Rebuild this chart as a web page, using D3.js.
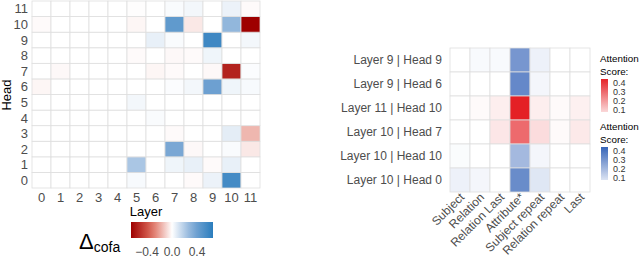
<!DOCTYPE html>
<html>
<head>
<meta charset="utf-8">
<script src="https://cdn.jsdelivr.net/npm/d3@7"></script>
<style>
  body { margin: 0; background: #fff; }
  svg { font-family: "Liberation Sans", Arial, sans-serif; }
</style>
</head>
<body>
<div id="chart"></div>
<script>
// left panel: delta cofa per layer/head
const layers = [0, 1, 2, 3, 4, 5, 6, 7, 8, 9, 10, 11];
const heads = [0, 1, 2, 3, 4, 5, 6, 7, 8, 9, 10, 11];
// deltaRows[head][layer]
const deltaRows = [
  [0, 0, 0, 0, 0, 0.02, 0, 0, -0.01, 0.05, 0.56, 0],
  [0, 0, 0, 0, 0, 0.22, 0, 0.04, 0.06, -0.01, 0.06, 0],
  [0, 0, 0, 0, 0, 0, 0, 0.35, -0.015, 0, 0.015, -0.05],
  [0, 0, 0, 0, 0, 0, 0, -0.01, 0, 0, 0.07, -0.16],
  [0, 0, 0, 0, 0, 0, 0.015, 0, 0, 0, 0, 0],
  [0, 0, 0, 0, 0, 0.03, 0, 0, 0, 0, 0, 0],
  [-0.02, 0, 0, 0, 0, 0, 0, 0.01, 0.03, 0.4, 0.04, 0.02],
  [0, -0.015, 0, 0, 0, 0, -0.02, -0.01, 0, -0.015, -0.55, 0.01],
  [0, 0, 0, 0, 0, -0.01, 0, -0.015, -0.01, 0.04, 0, 0],
  [0, 0, 0, 0, 0, 0, 0.06, 0.015, 0, 0.58, 0, 0.03],
  [-0.01, 0, 0, 0, 0, -0.02, 0, 0.45, -0.05, 0, 0.28, -0.66],
  [0, 0, 0, 0, 0, -0.005, 0, 0.015, 0.03, 0, 0.05, -0.01]
];
const deltaTicks = [-0.4, 0.0, 0.4];

// right panel: attention per token position
const tokens = ["Subject", "Relation", "Relation Last", "Attribute*", "Subject repeat", "Relation repeat", "Last"];
const headLabels = ["Layer 9 | Head 9", "Layer 9 | Head 6", "Layer 11 | Head 10", "Layer 10 | Head 7", "Layer 10 | Head 10", "Layer 10 | Head 0"];
const headSign = ["pos", "pos", "neg", "neg", "pos", "pos"];
const attention = [
  [0.0, 0.015, 0.015, 0.30, 0.04, 0.0, 0.0],
  [0.0, 0.0, 0.0, 0.34, 0.025, 0.0, 0.0],
  [0.0, 0.01, 0.035, 0.45, 0.035, 0.01, 0.03],
  [0.0, 0.0, 0.05, 0.30, 0.07, 0.01, 0.045],
  [0.01, 0.0, 0.0, 0.20, 0.025, 0.0, 0.0],
  [0.04, 0.025, 0.0, 0.33, 0.07, 0.0, 0.0]
];
const attTicks = [0.1, 0.2, 0.3, 0.4];

const width = 640, height = 260;
const svg = d3.select("#chart").append("svg")
  .attr("width", width).attr("height", height);

const gridCol = "#dedede";
const tickCol = "#4d4d4d";

// ---- left heatmap
let x = d3.scaleBand().domain(layers).range([32, 260]);
let y = d3.scaleBand().domain(heads).range([188, 1]);
let deltaColor = d3.scaleLinear()
  .domain([-0.66, -0.33, 0, 0.33, 0.66])
  .range(["#9e0000", "#dd6a5a", "#ffffff", "#7faad6", "#2a7dbd"])
  .clamp(true);

let cells = [];
deltaRows.forEach((row, h) => row.forEach((v, l) => cells.push({h, l, v})));

svg.append("g").selectAll("rect")
  .data(cells).enter().append("rect")
  .attr("x", d => x(d.l)).attr("y", d => y(d.h))
  .attr("width", x.bandwidth()).attr("height", y.bandwidth())
  .attr("fill", d => deltaColor(d.v))
  .attr("stroke", gridCol).attr("stroke-width", 0.8);

svg.append("g").selectAll("text")
  .data(layers).enter().append("text")
  .attr("x", d => x(d) + x.bandwidth() / 2).attr("y", 202)
  .attr("text-anchor", "middle").attr("font-size", 13).attr("fill", tickCol)
  .text(d => d);

svg.append("g").selectAll("text")
  .data(heads).enter().append("text")
  .attr("x", 28).attr("y", d => y(d) + y.bandwidth() / 2)
  .attr("dy", "0.36em")
  .attr("text-anchor", "end").attr("font-size", 13).attr("fill", tickCol)
  .text(d => d);

svg.append("text").attr("x", 146).attr("y", 216)
  .attr("text-anchor", "middle").attr("font-size", 13).text("Layer");
svg.append("text").attr("transform", "translate(11,95) rotate(-90)")
  .attr("text-anchor", "middle").attr("font-size", 13).text("Head");

// delta legend
let defs = svg.append("defs");
let lg = defs.append("linearGradient").attr("id", "dgrad");
d3.range(0, 1.0001, 0.1).forEach(t => {
  lg.append("stop").attr("offset", t).attr("stop-color", deltaColor(-0.66 + 1.32 * t));
});
let legX = d3.scaleLinear().domain([-0.656, 0.656]).range([131, 213]);
svg.append("rect").attr("x", 131).attr("y", 222).attr("width", 82).attr("height", 16)
  .attr("fill", "url(#dgrad)");
svg.append("g").selectAll("text")
  .data(deltaTicks).enter().append("text")
  .attr("x", d => legX(d)).attr("y", 256)
  .attr("text-anchor", "middle").attr("font-size", 12).attr("fill", tickCol)
  .text(d => d3.format(".1f")(d).replace("-", "\u2212"));
let dt = svg.append("text").attr("x", 79).attr("y", 249).attr("font-size", 22);
dt.append("tspan").text("\u0394");
dt.append("tspan").attr("font-size", 14).attr("dy", 3).text("cofa");

// ---- right heatmap
let x2 = d3.scaleBand().domain(tokens).range([450, 590]);
let y2 = d3.scaleBand().domain(headLabels).range([48, 192]);
let redScale = d3.scaleLinear().domain([0, 0.47]).range(["#ffffff", "#e3161b"]).clamp(true);
let blueScale = d3.scaleLinear().domain([0, 0.47]).range(["#ffffff", "#2a5bb4"]).clamp(true);

let cells2 = [];
attention.forEach((row, r) => row.forEach((v, c) => cells2.push({r, c, v})));

svg.append("g").selectAll("rect")
  .data(cells2).enter().append("rect")
  .attr("x", d => x2(tokens[d.c])).attr("y", d => y2(headLabels[d.r]))
  .attr("width", x2.bandwidth()).attr("height", y2.bandwidth())
  .attr("fill", d => headSign[d.r] === "neg" ? redScale(d.v) : blueScale(d.v))
  .attr("stroke", gridCol).attr("stroke-width", 0.8);

svg.append("g").selectAll("text")
  .data(headLabels).enter().append("text")
  .attr("x", 442).attr("y", d => y2(d) + y2.bandwidth() / 2)
  .attr("dy", "0.36em").attr("text-anchor", "end")
  .attr("font-size", 12).attr("fill", tickCol)
  .text(d => d);

svg.append("g").selectAll("text")
  .data(tokens).enter().append("text")
  .attr("transform", d => `translate(${x2(d) + x2.bandwidth() / 2 + 5},198) rotate(-45)`)
  .attr("text-anchor", "end").attr("font-size", 12).attr("fill", tickCol)
  .text(d => d);

// attention legends
function attLegend(top, scale, id) {
  let g = svg.append("g");
  g.append("text").attr("x", 600).attr("y", top + 3).attr("font-size", 9.8).text("Attention");
  g.append("text").attr("x", 600).attr("y", top + 16).attr("font-size", 9.8).text("Score:");
  let ly = d3.scaleLinear().domain([0.1, 0.4]).range([top + 51, top + 24]);
  let lo = ly.invert(top + 53), hi = ly.invert(top + 20);
  let gr = defs.append("linearGradient").attr("id", id)
    .attr("x1", 0).attr("y1", 1).attr("x2", 0).attr("y2", 0);
  d3.range(0, 1.0001, 0.1).forEach(t => {
    gr.append("stop").attr("offset", t).attr("stop-color", scale(lo + (hi - lo) * t));
  });
  g.append("rect").attr("x", 601).attr("y", top + 20).attr("width", 7).attr("height", 33)
    .attr("fill", `url(#${id})`);
  g.selectAll(".lab").data(attTicks).enter().append("text")
    .attr("x", 613).attr("y", d => ly(d)).attr("dy", "0.35em")
    .attr("font-size", 9).attr("fill", "#333")
    .text(d => d.toFixed(1));
}
attLegend(59, redScale, "rgrad");
attLegend(127, blueScale, "bgrad");
</script>
</body>
</html>
